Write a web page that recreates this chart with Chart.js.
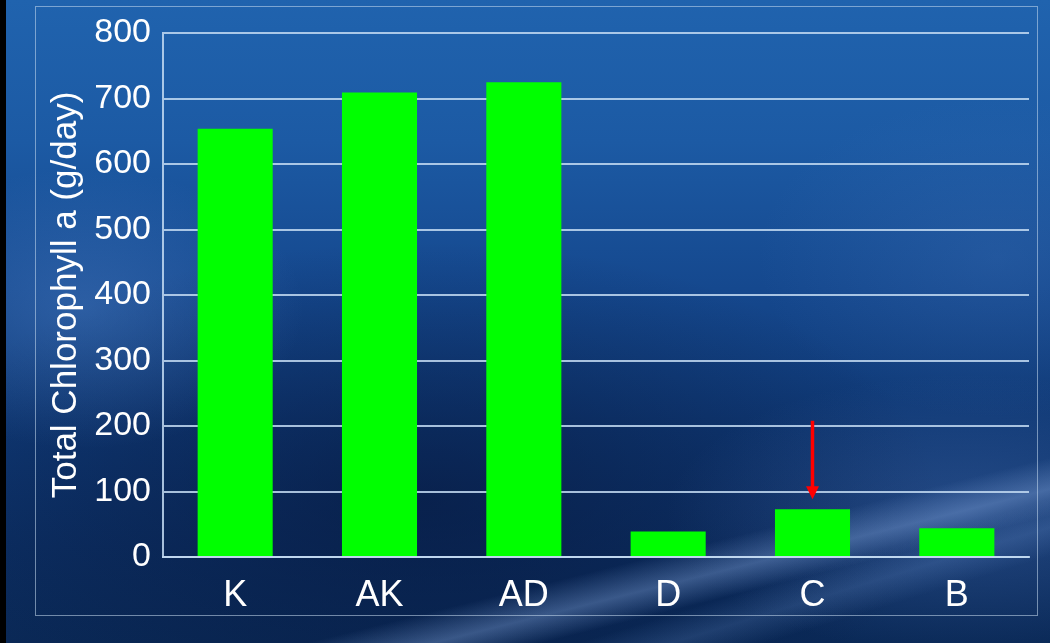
<!DOCTYPE html>
<html>
<head>
<meta charset="utf-8">
<script src="https://cdn.jsdelivr.net/npm/chart.js@4.4.1/dist/chart.umd.min.js"></script>
<style>
    html, body {
        margin: 0;
        padding: 0;
    }
    body {
        width: 1050px;
        height: 643px;
        overflow: hidden;
        position: relative;
        /* deep water backdrop with a pale ripple in the lower right */
        background:
            linear-gradient(166deg, rgba(0,0,0,0) 79.5%, rgba(130,165,220,0.40) 83%, rgba(0,0,0,0) 86%),
            linear-gradient(163deg, rgba(0,0,0,0) 85%, rgba(110,150,210,0.22) 88%, rgba(0,0,0,0) 91%),
            radial-gradient(ellipse 300px 140px at 92% 80%, rgba(90,130,200,0.30), rgba(0,0,0,0)),
            radial-gradient(ellipse 220px 140px at 8% 48%, rgba(90,140,210,0.35), rgba(0,0,0,0)),
            radial-gradient(ellipse 240px 160px at 95% 40%, rgba(70,120,190,0.25), rgba(0,0,0,0)),
            radial-gradient(ellipse 520px 260px at 40% 78%, rgba(5,20,55,0.55), rgba(0,0,0,0)),
            linear-gradient(180deg, #2063ae 0%, #1c5aa4 22%, #15488e 45%, #0f3874 65%, #0c2e62 85%, #0a2957 100%);
    }
    .edge {
        position: absolute;
        left: 0; top: 0;
        width: 6px; height: 643px;
        background: #000;
    }
    .frame {
        position: absolute;
        left: 35px; top: 6px;
        width: 1001px; height: 608px;
        border: 1px solid rgba(200, 220, 240, 0.55);
    }
    canvas {
        position: absolute;
        left: 0; top: 0;
    }
</style>
</head>
<body>
<div class="edge"></div>
<div class="frame"></div>
<canvas id="chlorophyllChart" width="1050" height="643"></canvas>
<script>
    // Sites along the x axis and their total chlorophyll a (g/day)
    const sites = ['K', 'AK', 'AD', 'D', 'C', 'B'];
    const chlorophyll = [654, 709, 725, 39, 73, 44];

    // Red pointer above site C, from/to values on the y axis
    const arrowSite = 'C';
    const arrowFrom = 208;
    const arrowTo = 88;

    const fontFamily = '"Liberation Sans", Arial, sans-serif';
    const lineColor = 'rgba(195, 218, 242, 0.85)';

    const arrowPlugin = {
        id: 'siteArrow',
        afterDatasetsDraw(chart) {
            const { ctx, scales } = chart;
            const x = scales.x.getPixelForValue(sites.indexOf(arrowSite));
            const yStart = scales.y.getPixelForValue(arrowFrom);
            const yTip = scales.y.getPixelForValue(arrowTo);
            const headLen = 13;
            const headHalf = 6.5;

            ctx.save();
            ctx.strokeStyle = '#ff0000';
            ctx.fillStyle = '#ff0000';
            ctx.lineWidth = 3.5;
            ctx.beginPath();
            ctx.moveTo(x, yStart);
            ctx.lineTo(x, yTip - headLen + 1);
            ctx.stroke();

            ctx.beginPath();
            ctx.moveTo(x - headHalf, yTip - headLen);
            ctx.lineTo(x + headHalf, yTip - headLen);
            ctx.lineTo(x, yTip);
            ctx.closePath();
            ctx.fill();
            ctx.restore();
        }
    };

    new Chart(document.getElementById('chlorophyllChart'), {
        type: 'bar',
        data: {
            labels: sites,
            datasets: [{
                data: chlorophyll,
                backgroundColor: '#00ff00',
                borderWidth: 0,
                barPercentage: 0.52,
                categoryPercentage: 1.0
            }]
        },
        options: {
            responsive: false,
            devicePixelRatio: 1,
            animation: false,
            layout: {
                padding: { left: 0, top: 33, right: 21, bottom: 0 }
            },
            plugins: {
                legend: { display: false },
                tooltip: { enabled: false }
            },
            scales: {
                x: {
                    grid: { display: false },
                    border: { display: true, color: lineColor, width: 2 },
                    ticks: {
                        color: '#ffffff',
                        padding: 9,
                        font: { family: fontFamily, size: 36 }
                    },
                    afterFit(scale) {
                        scale.height = 86;
                    }
                },
                y: {
                    min: 0,
                    max: 800,
                    grid: {
                        color: lineColor,
                        lineWidth: 2,
                        drawTicks: false
                    },
                    border: { display: true, color: lineColor, width: 2 },
                    ticks: {
                        stepSize: 100,
                        color: '#ffffff',
                        padding: 12,
                        font: { family: fontFamily, size: 34 }
                    },
                    title: {
                        display: true,
                        text: 'Total Chlorophyll a (g/day)',
                        color: '#ffffff',
                        padding: { top: 45, bottom: 0 },
                        font: { family: fontFamily, size: 35 }
                    },
                    afterFit(scale) {
                        scale.width = 163;
                    }
                }
            }
        },
        plugins: [arrowPlugin]
    });
</script>
</body>
</html>
